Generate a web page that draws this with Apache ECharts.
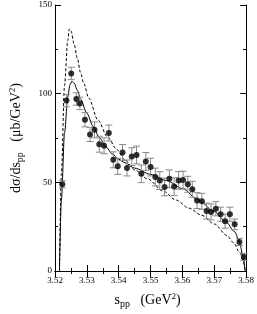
<!DOCTYPE html>
<html><head><meta charset="utf-8">
<script src="https://cdn.jsdelivr.net/npm/echarts@6/dist/echarts.min.js"></script>
<style>html,body{margin:0;padding:0;background:#fff}#c{width:257px;height:314px}</style>
</head><body><div id="c"></div>
<script>
// Data (s_pp in GeV^2, dσ/ds_pp in μb/GeV^2)
var pointX = [3.5223,3.5236,3.5251,3.5267,3.5278,3.5294,3.5310,3.5324,3.5339,3.5354,3.5369,3.5383,3.5397,3.5412,3.5426,3.5441,3.5456,3.5471,3.5485,3.5500,3.5515,3.5529,3.5544,3.5559,3.5574,3.5588,3.5602,3.5617,3.5631,3.5646,3.5661,3.5676,3.5690,3.5705,3.5720,3.5734,3.5749,3.5764,3.5779,3.5793];
var pointY = [48.9,96.1,111.4,97,94.5,85.3,77,79.6,71.5,70.6,77.8,62.7,59,66.8,58.1,64.5,65.4,54.8,61.8,58.6,53,51,47.4,52,47.6,51.1,51.3,48.9,46.1,39.7,39.3,33.8,33.3,35.1,32,28.1,32,26.3,16.4,7.9];
var pointErr = [2,3.5,3.5,3.5,3.5,4,4,4.5,4.5,4.5,4.5,4.5,4.5,4.5,4.5,5,5,5,5,5,5,5,5,5,5,5,5,4.5,4.5,4.5,4.5,4.5,4.5,4,4,4,4,3,2,2];

var solidX = [3.5214,3.5220,3.5230,3.5240,3.5247,3.5253,3.5260,3.5270,3.5280,3.5300,3.5320,3.5340,3.5360,3.5380,3.5400,3.5420,3.5450,3.5500,3.5550,3.5600,3.5650,3.5700,3.5735,3.5765,3.5780,3.5790,3.5797];
var solidY = [0,40,78,98,105,107,106,102,97,89,81.5,75,70,66,63,61,58,54.5,51,46.5,40,33.5,28,22,15.5,8.5,0];

var dashX = [3.5214,3.5220,3.5230,3.5240,3.5245,3.5250,3.5260,3.5270,3.5280,3.5290,3.5306,3.5335,3.5365,3.5394,3.5420,3.5450,3.5490,3.5540,3.5580,3.5620,3.5660,3.5700,3.5740,3.5760,3.5780,3.5790,3.5797];
var dashY = [0,55,105,130,136.5,135.5,128,120,112,106,97.5,85,75.6,68.5,62.5,57,52,45,40,35.5,31.5,26.5,20,16,10.5,6,0];

var xTicks = [3.52,3.53,3.54,3.55,3.56,3.57,3.58];
var yTicks = [0,50,100,150];

function zip(a,b){return a.map(function(v,i){return [v,b[i]];});}
var errData = pointX.map(function(v,i){return [v, pointY[i]-pointErr[i], pointY[i]+pointErr[i]];});

var FONT = '"Liberation Serif","DejaVu Serif",serif';
var richName = {
  a:{fontFamily:FONT,fontSize:14,color:'#000'},
  sub:{fontFamily:FONT,fontSize:10,color:'#000',verticalAlign:'bottom',padding:[7,0,0,0]},
  sup:{fontFamily:FONT,fontSize:9,color:'#000',verticalAlign:'top',padding:[0,0,8,0]}
};
function axisCommon(show){
  return {
    axisLine:{show:true,lineStyle:{color:'#000',width:1}},
    axisTick:{show:true,inside:true,length:6,lineStyle:{color:'#000',width:1}},
    minorTick:{show:true,splitNumber:2,length:3,lineStyle:{color:'#000',width:1}},
    splitLine:{show:false},
    axisLabel:{show:show,color:'#000',fontFamily:FONT,fontSize:9}
  };
}
var xa = Object.assign(axisCommon(true),{type:'value',min:xTicks[0],max:xTicks[xTicks.length-1],interval:0.01,
  axisLabel:{show:true,color:'#000',fontFamily:FONT,fontSize:9,margin:5,formatter:function(v){return v.toFixed(2);}},
  name:'{a|s}{sub|pp}{a|   (GeV}{sup|2}{a|)}',nameLocation:'middle',nameGap:21,
  nameTextStyle:{padding:[0,6,0,0],rich:richName}
});
var xa2 = Object.assign(axisCommon(false),{type:'value',position:'top',min:xTicks[0],max:xTicks[xTicks.length-1],interval:0.01});
var ya = Object.assign(axisCommon(true),{type:'value',min:yTicks[0],max:yTicks[yTicks.length-1],interval:50,
  axisLabel:{show:true,color:'#000',fontFamily:FONT,fontSize:9,margin:3},
  name:'{a|dσ/ds}{sub|pp}{a|   (μb/GeV}{sup|2}{a|)}',nameLocation:'middle',nameGap:30,nameRotate:90,
  nameTextStyle:{rich:richName}
});
var ya2 = Object.assign(axisCommon(false),{type:'value',position:'right',min:yTicks[0],max:yTicks[yTicks.length-1],interval:50});

var chart = echarts.init(document.getElementById('c'),null,{renderer:'canvas'});
chart.setOption({
  animation:false,
  backgroundColor:'#fff',
  grid:{left:44,right:9,top:5,bottom:37},
  xAxis:[xa,xa2],
  yAxis:[ya,ya2],
  series:[
    {type:'line',data:zip(dashX,dashY),smooth:0.3,smoothMonotone:'x',showSymbol:false,lineStyle:{color:'#000',width:1,type:[3,2]},z:2},
    {type:'line',data:zip(solidX,solidY),smooth:0.3,smoothMonotone:'x',showSymbol:false,lineStyle:{color:'#000',width:1},z:2},
    {type:'custom',data:errData,z:3,renderItem:function(params,api){
      var x=api.value(0), lo=api.coord([x,api.value(1)]), hi=api.coord([x,api.value(2)]);
      var w=3.5, st={stroke:'#888',lineWidth:1};
      return {type:'group',children:[
        {type:'line',shape:{x1:lo[0],y1:lo[1],x2:hi[0],y2:hi[1]},style:st},
        {type:'line',shape:{x1:lo[0]-w,y1:lo[1],x2:lo[0]+w,y2:lo[1]},style:st},
        {type:'line',shape:{x1:hi[0]-w,y1:hi[1],x2:hi[0]+w,y2:hi[1]},style:st}
      ]};
    }},
    {type:'scatter',data:zip(pointX,pointY),symbol:'circle',symbolSize:6,itemStyle:{color:'#000'},z:4}
  ]
});
</script></body></html>
